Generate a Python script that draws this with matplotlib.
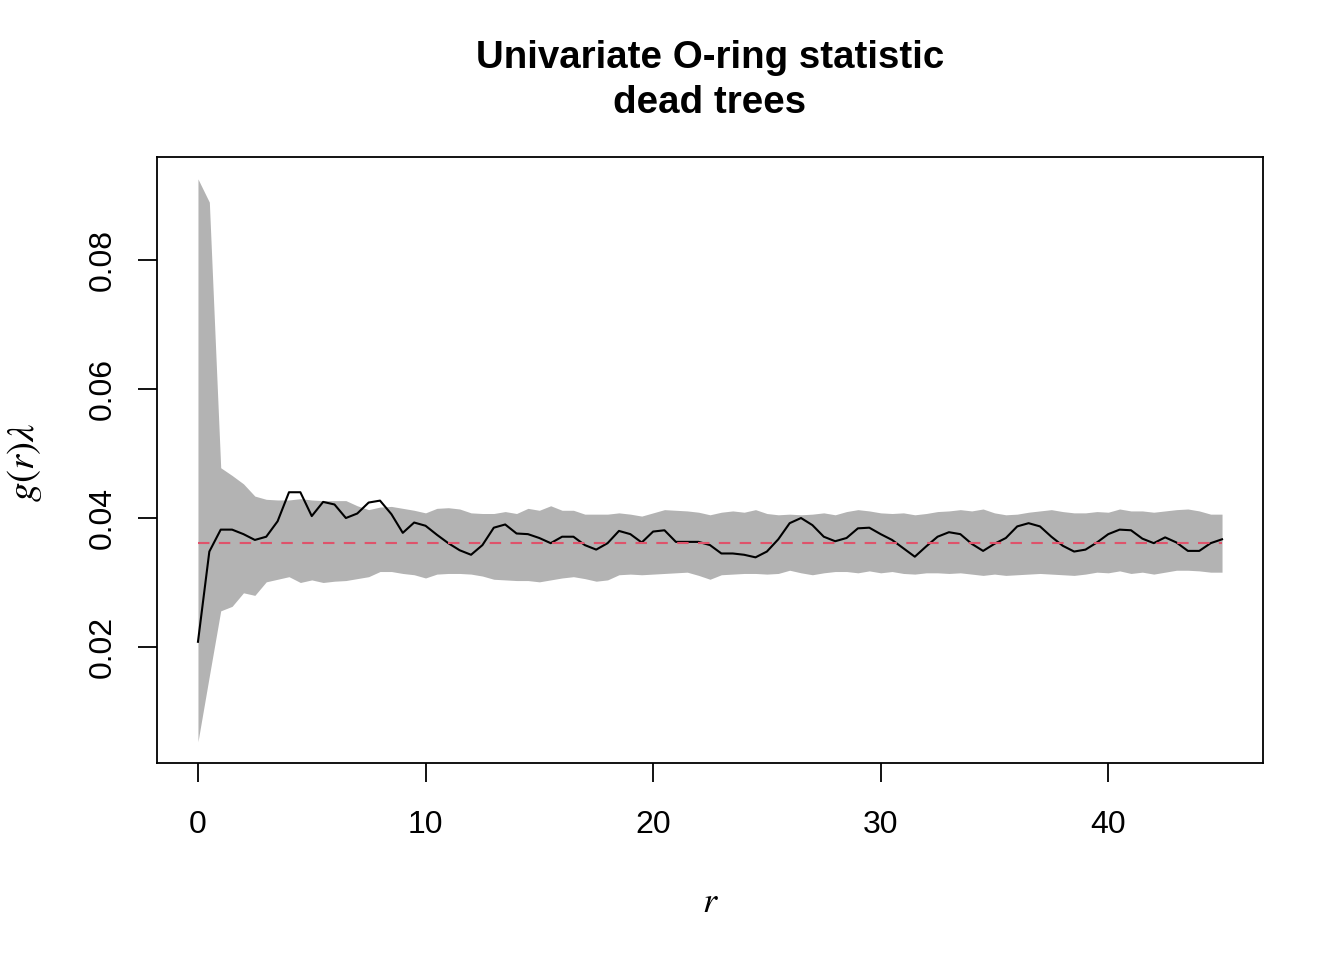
import numpy as np
import matplotlib
matplotlib.use("Agg")
import matplotlib.pyplot as plt

# distance r, step 0.5 from 0 to 45
r = np.arange(0, 45.5, 0.5)

# observed O-ring statistic g(r)*lambda
observed = [
    0.0208, 0.0348, 0.0382, 0.0382, 0.0375, 0.0366, 0.0371, 0.0395, 0.0440, 0.0440,
    0.0403, 0.0425, 0.0421, 0.0400, 0.0407, 0.0424, 0.0427, 0.0406, 0.0377, 0.0393,
    0.0388, 0.0374, 0.0361, 0.0350, 0.0343, 0.0358, 0.0385, 0.0390, 0.0376, 0.0375,
    0.0369, 0.0361, 0.0371, 0.0371, 0.0358, 0.0351, 0.0361, 0.0380, 0.0375, 0.0362,
    0.0379, 0.0381, 0.0363, 0.0363, 0.0363, 0.0358, 0.0345, 0.0345, 0.0343, 0.0339,
    0.0348, 0.0367, 0.0392, 0.0400, 0.0389, 0.0371, 0.0364, 0.0369, 0.0384, 0.0385,
    0.0375, 0.0366, 0.0353, 0.0340, 0.0356, 0.0371, 0.0378, 0.0375, 0.0360, 0.0349,
    0.0360, 0.0369, 0.0387, 0.0392, 0.0387, 0.0371, 0.0357, 0.0348, 0.0351, 0.0362,
    0.0375, 0.0382, 0.0381, 0.0368, 0.0361, 0.0370, 0.0362, 0.0349, 0.0349, 0.0361,
    0.0367,
]

# simulation envelope
upper = [
    0.0926, 0.0890, 0.0478, 0.0466, 0.0453, 0.0434, 0.0429, 0.0428, 0.0428, 0.0430,
    0.0428, 0.0427, 0.0427, 0.0427, 0.0419, 0.0413, 0.0417, 0.0418, 0.0415, 0.0412,
    0.0408, 0.0415, 0.0416, 0.0414, 0.0408, 0.0407, 0.0407, 0.0410, 0.0407, 0.0415,
    0.0412, 0.0419, 0.0412, 0.0412, 0.0406, 0.0406, 0.0406, 0.0408, 0.0406, 0.0403,
    0.0408, 0.0413, 0.0412, 0.0411, 0.0409, 0.0405, 0.0409, 0.0411, 0.0409, 0.0413,
    0.0407, 0.0405, 0.0406, 0.0405, 0.0406, 0.0408, 0.0405, 0.0410, 0.0413, 0.0411,
    0.0408, 0.0407, 0.0408, 0.0405, 0.0407, 0.0410, 0.0411, 0.0413, 0.0411, 0.0414,
    0.0408, 0.0405, 0.0406, 0.0409, 0.0411, 0.0413, 0.0410, 0.0408, 0.0408, 0.0410,
    0.0409, 0.0414, 0.0411, 0.0411, 0.0409, 0.0411, 0.0413, 0.0414, 0.0411, 0.0406,
    0.0406,
]
lower = [
    0.0053, 0.0155, 0.0256, 0.0263, 0.0284, 0.0280, 0.0301, 0.0305, 0.0309, 0.0300,
    0.0304, 0.0300, 0.0302, 0.0303, 0.0306, 0.0309, 0.0317, 0.0317, 0.0314, 0.0312,
    0.0307, 0.0313, 0.0314, 0.0314, 0.0313, 0.0310, 0.0305, 0.0304, 0.0303, 0.0303,
    0.0301, 0.0304, 0.0307, 0.0309, 0.0306, 0.0302, 0.0304, 0.0312, 0.0313, 0.0312,
    0.0313, 0.0314, 0.0315, 0.0316, 0.0311, 0.0305, 0.0312, 0.0313, 0.0314, 0.0314,
    0.0313, 0.0314, 0.0319, 0.0315, 0.0312, 0.0315, 0.0317, 0.0317, 0.0315, 0.0318,
    0.0315, 0.0317, 0.0314, 0.0313, 0.0315, 0.0315, 0.0314, 0.0315, 0.0313, 0.0311,
    0.0313, 0.0311, 0.0312, 0.0313, 0.0314, 0.0313, 0.0312, 0.0311, 0.0313, 0.0316,
    0.0315, 0.0318, 0.0314, 0.0316, 0.0313, 0.0316, 0.0319, 0.0319, 0.0318, 0.0316,
    0.0316,
]

# theoretical value (CSR)
theo = 0.0362

plt.rcParams['font.family'] = ['Liberation Sans', 'DejaVu Sans']
plt.rcParams['mathtext.fontset'] = 'stix'

fig = plt.figure(figsize=(13.44, 9.6), dpi=100)
ax = fig.add_axes([157/1344, 1 - 763/960, (1263-157)/1344, (763-157)/960])

ax.fill_between(r, lower, upper, color='#B3B3B3', linewidth=0)
ax.plot(r, observed, color='black', linewidth=1.5)
ax.plot([r[0], r[-1]], [theo, theo], color='#DF536B', linewidth=1.5, dashes=(5.5, 4.5))

ax.set_xlim(-1.8, 46.8)
ax.set_ylim(0.0020, 0.0960)
ax.set_xticks([0, 10, 20, 30, 40])
ax.set_yticks([0.02, 0.04, 0.06, 0.08])
ax.set_xticklabels(['0', '10', '20', '30', '40'])
ax.set_yticklabels(['0.02', '0.04', '0.06', '0.08'], rotation=90, va='center')

ax.tick_params(direction='out', length=14, width=1.3, labelsize=23, pad=20)
ax.tick_params(axis='y', pad=14)
for s in ax.spines.values():
    s.set_linewidth(1.3)

ax.set_xlabel(r'$r$', fontsize=26, labelpad=32)
fig.text(24/1344, 1 - 462/960, r'$g(r)\lambda$', rotation=90, ha='center', va='center',
         fontsize=28)

fig.text(710/1344, 1 - 58/960, 'Univariate O-ring statistic', ha='center', va='center',
         fontsize=27.7, fontweight='bold')
fig.text(710/1344, 1 - 103/960, 'dead trees', ha='center', va='center',
         fontsize=27.7, fontweight='bold')

fig.savefig('out.png', dpi=100)
